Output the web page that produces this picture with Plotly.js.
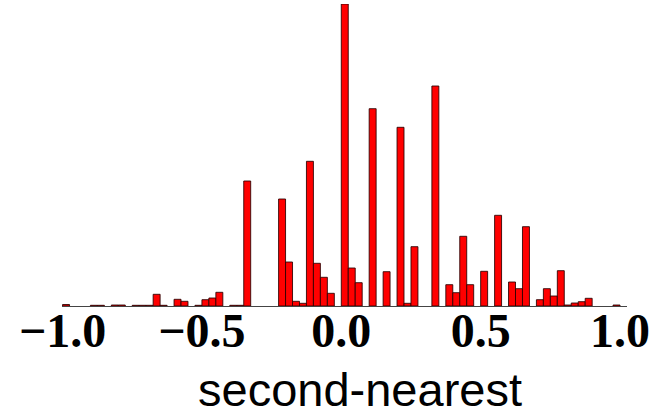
<!DOCTYPE html>
<html>
<head>
<meta charset="utf-8">
<script src="https://cdn.plot.ly/plotly-3.0.1.min.js"></script>
<style>html,body{margin:0;padding:0;background:#fff;}#chart{width:653px;height:415px;}</style>
</head>
<body>
<div id="chart"></div>
<script>
// Histogram bins (left edges) and their heights (relative counts)
var binLeft = [-1.0, -0.9, -0.875, -0.825, -0.8, -0.75, -0.725, -0.7, -0.675, -0.65,
  -0.6, -0.575, -0.525, -0.5, -0.475, -0.45, -0.4, -0.375, -0.35,
  -0.225, -0.2, -0.175, -0.15, -0.125, -0.1, -0.075, -0.05,
  0.0, 0.025, 0.05, 0.1, 0.15, 0.2, 0.225, 0.25,
  0.325, 0.375, 0.4, 0.425, 0.45, 0.5, 0.55, 0.6, 0.625, 0.65,
  0.7, 0.725, 0.75, 0.775, 0.8, 0.825, 0.85, 0.875, 0.975];
var counts = [1.5, 0.7, 0.7, 1, 1, 0.7, 0.7, 0.7, 11.7, 0.7,
  6.7, 4.7, 0.7, 6.3, 8, 13.7, 0.7, 0.7, 125,
  107, 44, 4.7, 2.7, 144.7, 42.7, 28.7, 12.7,
  302, 38, 23.3, 197.3, 34.3, 178.7, 2.7, 59.3,
  220, 21.3, 13.3, 69.7, 21.3, 34.7, 90.7, 24, 17.3, 79.3,
  6.3, 17.3, 10, 35.3, 1, 3, 4.3, 7.7, 1];
var binWidth = 0.025;
var tickVals = [-1.0, -0.5, 0.0, 0.5, 1.0];
var tickText = ['\u22121.0', '\u22120.5', '0.0', '0.5', '1.0'];
var xLabel = 'second-nearest';

var widths = binLeft.map(function(){ return binWidth; });

var trace = {
  type: 'bar',
  x: binLeft,
  y: counts,
  width: widths,
  offset: 0,
  marker: {color: '#ff0000', line: {color: 'rgba(40,0,0,0.85)', width: 1}},
  hoverinfo: 'x+y'
};

var layout = {
  width: 653, height: 415,
  margin: {l: 62, r: 26, t: 4, b: 109},
  paper_bgcolor: '#fff', plot_bgcolor: '#fff',
  showlegend: false,
  bargap: 0,
  xaxis: {
    range: [-1.002, 1.025],
    showgrid: false, zeroline: false,
    showline: true, linecolor: '#444', linewidth: 1,
    ticks: '', tickvals: tickVals, ticktext: tickText,
    ticklabelstandoff: -18,
    tickfont: {family: 'Liberation Serif, Times New Roman, serif', size: 48, color: '#000', weight: 'bold'}
  },
  yaxis: {range: [0, 302], visible: false, showgrid: false, zeroline: false},
  annotations: [{
    text: xLabel, xref: 'paper', yref: 'paper',
    x: (360 - 62) / 565, y: -0.277, xanchor: 'center', yanchor: 'middle',
    showarrow: false,
    font: {family: 'Liberation Sans, Arial, sans-serif', size: 47, color: '#000'}
  }]
};

Plotly.newPlot('chart', [trace], layout, {displayModeBar: false, staticPlot: true});
</script>
</body>
</html>
